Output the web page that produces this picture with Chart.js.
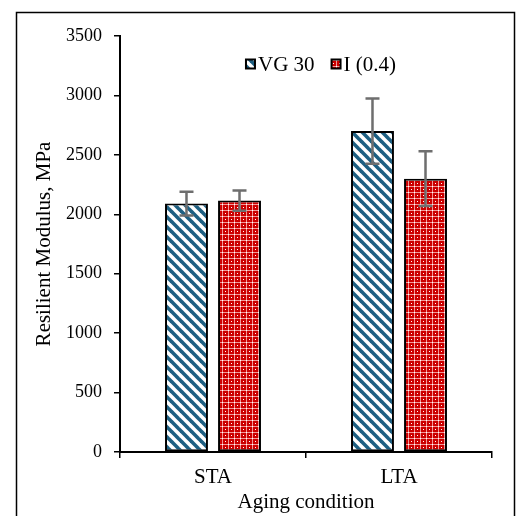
<!DOCTYPE html>
<html>
<head>
<meta charset="utf-8">
<title>Resilient Modulus</title>
<script src="https://cdn.jsdelivr.net/npm/chart.js@4.4.1/dist/chart.umd.min.js"></script>
<style>
  html, body { margin: 0; padding: 0; background: #ffffff; }
  #wrap { width: 516px; height: 516px; }
</style>
</head>
<body>
<div id="wrap"><canvas id="chart" width="516" height="516"></canvas></div>
<script>
// Resilient modulus by aging condition

const categories = ['STA', 'LTA'];
const vg30Values = [2090, 2700];
const vg30Errors = [100, 275];
const i04Values = [2115, 2300];
const i04Errors = [85, 230];
const yTicks = [0, 500, 1000, 1500, 2000, 2500, 3000, 3500];

const colors = {
  stripe: '#1d5f82',
  red: '#cc0000',
  error: '#6e6e6e',
  axis: '#000000',
  text: '#000000'
};

const fontFamily = "'Liberation Serif', 'Times New Roman', serif";

function makeStripePattern() {
  const c = document.createElement('canvas');
  c.width = 10;
  c.height = 10;
  const g = c.getContext('2d');
  g.fillStyle = '#ffffff';
  g.fillRect(0, 0, 10, 10);
  g.strokeStyle = colors.stripe;
  g.lineWidth = 3.6;
  for (let x0 = -10; x0 <= 10; x0 += 10) {
    g.beginPath();
    g.moveTo(x0 - 2, -2);
    g.lineTo(x0 + 12, 12);
    g.stroke();
  }
  return g.createPattern(c, 'repeat');
}

function makeDotPattern() {
  const c = document.createElement('canvas');
  c.width = 6;
  c.height = 6;
  const g = c.getContext('2d');
  g.fillStyle = colors.red;
  g.fillRect(0, 0, 6, 6);
  g.fillStyle = 'rgba(255, 200, 200, 0.75)';
  g.fillRect(0, 0, 6, 1);
  g.fillRect(0, 0, 1, 6);
  g.fillStyle = '#ffffff';
  g.fillRect(0, 0, 1, 1);
  g.fillRect(3, 3, 1, 1);
  return g.createPattern(c, 'repeat');
}

const errorBars = {
  id: 'errorBars',
  afterDatasetsDraw(chart) {
    const ctx = chart.ctx;
    const y = chart.scales.y;
    const errs = [vg30Errors, i04Errors];
    const vals = [vg30Values, i04Values];
    ctx.save();
    ctx.strokeStyle = colors.error;
    ctx.lineWidth = 2.5;
    chart.data.datasets.forEach((ds, di) => {
      const meta = chart.getDatasetMeta(di);
      meta.data.forEach((bar, i) => {
        const hi = y.getPixelForValue(vals[di][i] + errs[di][i]);
        const lo = y.getPixelForValue(vals[di][i] - errs[di][i]);
        const x = bar.x;
        ctx.beginPath();
        ctx.moveTo(x, hi);
        ctx.lineTo(x, lo);
        ctx.moveTo(x - 7, hi);
        ctx.lineTo(x + 7, hi);
        ctx.moveTo(x - 7, lo);
        ctx.lineTo(x + 7, lo);
        ctx.stroke();
      });
    });
    ctx.restore();
  }
};

// legend sits inside the plot area, a bit right of centre
const insideLegend = {
  id: 'insideLegend',
  afterDraw(chart) {
    const ctx = chart.ctx;
    const area = chart.chartArea;
    const box = 9;
    const gap = 3;
    const itemGap = 17;
    ctx.save();
    ctx.font = '21px ' + fontFamily;
    ctx.textBaseline = 'middle';
    ctx.textAlign = 'left';
    const items = chart.data.datasets.map(ds => ({
      label: ds.label,
      fill: ds.backgroundColor,
      w: box + gap + ctx.measureText(ds.label).width
    }));
    const total = items.reduce((s, it) => s + it.w, 0) + itemGap * (items.length - 1);
    let x = (area.left + area.right) / 2 + 15 - total / 2;
    const cy = area.top + 28;
    items.forEach(it => {
      ctx.fillStyle = it.fill;
      ctx.fillRect(x, cy - box / 2, box, box);
      ctx.strokeStyle = '#000000';
      ctx.lineWidth = 2;
      ctx.strokeRect(x, cy - box / 2, box, box);
      ctx.fillStyle = colors.text;
      ctx.fillText(it.label, x + box + gap, cy + 1);
      x += it.w + itemGap;
    });
    ctx.restore();
  }
};

const frame = {
  id: 'frame',
  beforeDraw(chart) {
    const ctx = chart.ctx;
    ctx.save();
    ctx.fillStyle = '#ffffff';
    ctx.fillRect(0, 0, chart.width, chart.height);
    ctx.strokeStyle = '#000000';
    ctx.lineWidth = 1.5;
    ctx.strokeRect(16.5, 12.5, 498, 520);
    ctx.restore();
  }
};

Chart.defaults.font.family = fontFamily;
Chart.defaults.color = colors.text;

new Chart(document.getElementById('chart'), {
  type: 'bar',
  data: {
    labels: categories,
    datasets: [
      {
        label: 'VG 30',
        data: vg30Values,
        backgroundColor: makeStripePattern(),
        borderColor: '#000000',
        borderWidth: 2,
        borderSkipped: false,
        categoryPercentage: 0.57,
        barPercentage: 0.81
      },
      {
        label: 'I (0.4)',
        data: i04Values,
        backgroundColor: makeDotPattern(),
        borderColor: '#000000',
        borderWidth: 2,
        borderSkipped: false,
        categoryPercentage: 0.57,
        barPercentage: 0.81
      }
    ]
  },
  options: {
    responsive: false,
    animation: false,
    layout: {
      padding: { left: 0, right: 24, top: 36, bottom: 0 }
    },
    plugins: {
      legend: { display: false },
      tooltip: { enabled: false }
    },
    scales: {
      x: {
        afterFit: (s) => { s.height = 64; },
        grid: {
          display: true,
          drawOnChartArea: false,
          drawTicks: true,
          tickLength: 6,
          color: colors.axis,
          lineWidth: 1.5
        },
        border: { color: colors.axis, width: 2 },
        ticks: {
          padding: 7,
          font: { size: 21 },
          color: colors.text
        },
        title: {
          display: true,
          text: 'Aging condition',
          font: { size: 21 },
          color: colors.text,
          padding: { top: 0, bottom: 1 }
        }
      },
      y: {
        min: 0,
        max: 3500,
        afterFit: (s) => { s.width = 120; },
        afterBuildTicks: (s) => { s.ticks = yTicks.map(v => ({ value: v })); },
        grid: {
          display: true,
          drawOnChartArea: false,
          drawTicks: true,
          tickLength: 6,
          color: colors.axis,
          lineWidth: 1.5
        },
        border: { color: colors.axis, width: 2 },
        ticks: {
          padding: 12,
          font: { size: 18 },
          color: colors.text,
          callback: (v) => String(v)
        },
        title: {
          display: true,
          text: 'Resilient Modulus, MPa',
          font: { size: 21 },
          color: colors.text,
          padding: { top: 32, bottom: 0 }
        }
      }
    }
  },
  plugins: [frame, errorBars, insideLegend]
});
</script>
</body>
</html>
